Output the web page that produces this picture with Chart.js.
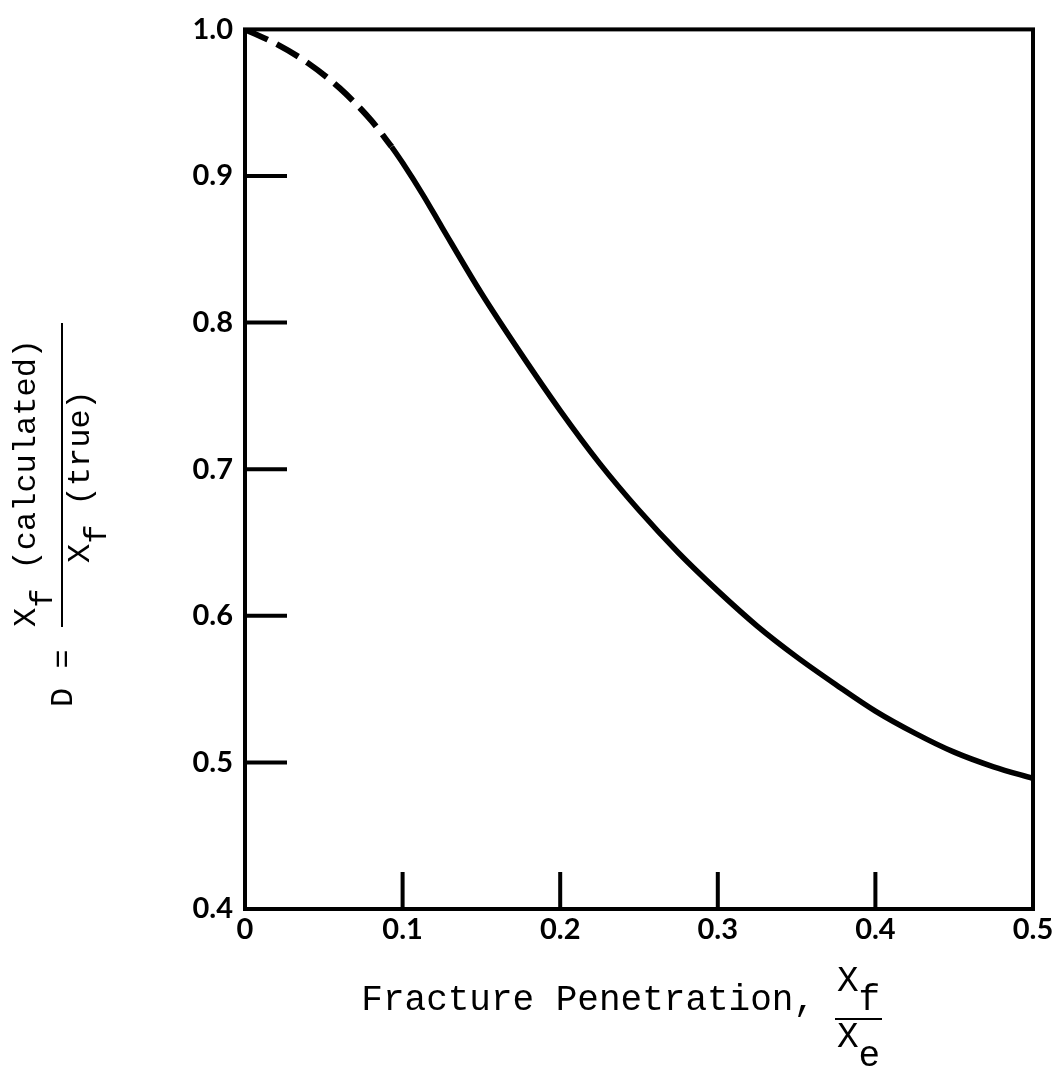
<!DOCTYPE html>
<html>
<head>
<meta charset="utf-8">
<script src="https://cdn.jsdelivr.net/npm/chart.js@4.4.1/dist/chart.umd.min.js"></script>
<style>
  html, body { margin: 0; padding: 0; background: #fff; }
</style>
</head>
<body>
<canvas id="graficaPenetracion" width="1061" height="1074"></canvas>
<script>
// Tramo discontinuo (extrapolado) de la curva
const tramoDiscontinuoX = [0, 0.02, 0.04, 0.06, 0.08, 0.093];
const tramoDiscontinuoY = [1.0, 0.990, 0.977, 0.960, 0.938, 0.920];

// Tramo continuo de la curva
const tramoContinuoX = [0.093, 0.1, 0.113, 0.125, 0.15, 0.175, 0.2, 0.225, 0.25, 0.275,
                        0.3, 0.325, 0.35, 0.375, 0.4, 0.425, 0.45, 0.475, 0.5];
const tramoContinuoY = [0.920, 0.909, 0.887, 0.865, 0.820, 0.779, 0.740, 0.704, 0.672, 0.643,
                        0.617, 0.593, 0.572, 0.553, 0.535, 0.520, 0.507, 0.497, 0.489];

// Ticks y etiquetas
const valoresX = [0, 0.1, 0.2, 0.3, 0.4, 0.5];
const etiquetasX = ['0', '0.1', '0.2', '0.3', '0.4', '0.5'];
const valoresY = [0.4, 0.5, 0.6, 0.7, 0.8, 0.9, 1.0];
const etiquetasY = ['0.4', '0.5', '0.6', '0.7', '0.8', '0.9', '1.0'];
const marcasX = [0.1, 0.2, 0.3, 0.4];
const marcasY = [0.5, 0.6, 0.7, 0.8, 0.9];

const fuenteTicks = { family: 'Lato', size: 29, weight: 'bold' };
const fuenteTituloX = '36px "Liberation Mono"';
const fuenteTituloY = '32px "Liberation Mono"';

// --- Texto con subíndice, dibujado pieza por pieza ---
function textoConSubindice(ctx, partes, x, y, bajada) {
    let cursor = x;
    partes.forEach(p => {
        ctx.fillText(p.t, cursor, y + (p.sub ? bajada : 0));
        cursor += ctx.measureText(p.t).width;
    });
    return cursor;
}

// --- Plugin: marco, marcas interiores y títulos de los ejes ---
const pluginMarco = {
    id: 'marco',
    afterDatasetsDraw(chart) {
        const { ctx, chartArea: a, scales: { x, y } } = chart;
        ctx.save();
        ctx.strokeStyle = '#000';
        ctx.lineWidth = 4;
        ctx.strokeRect(a.left, a.top, a.right - a.left, a.bottom - a.top);

        ctx.beginPath();
        marcasY.forEach(v => {
            const py = y.getPixelForValue(v);
            ctx.moveTo(a.left, py);
            ctx.lineTo(a.left + 42, py);
        });
        marcasX.forEach(v => {
            const px = x.getPixelForValue(v);
            ctx.moveTo(px, a.bottom);
            ctx.lineTo(px, a.bottom - 37);
        });
        ctx.stroke();
        ctx.restore();
    },
    afterDraw(chart) {
        const { ctx } = chart;
        ctx.save();
        ctx.fillStyle = '#000';
        ctx.strokeStyle = '#000';
        ctx.textBaseline = 'alphabetic';

        // Título del eje X
        ctx.font = fuenteTituloX;
        const principal = 'Fracture Penetration,';
        const base = 1010;
        ctx.fillText(principal, 815 - ctx.measureText(principal).width, base);
        textoConSubindice(ctx, [{ t: 'X' }, { t: 'f', sub: true }], 837, base - 19, 19);
        textoConSubindice(ctx, [{ t: 'X' }, { t: 'e', sub: true }], 837, base + 37, 19);
        ctx.lineWidth = 2;
        ctx.beginPath();
        ctx.moveTo(835, base + 9);
        ctx.lineTo(882, base + 9);
        ctx.stroke();

        // Título del eje Y (girado 90°)
        ctx.font = fuenteTituloY;
        ctx.save();
        ctx.rotate(-Math.PI / 2);
        ctx.fillText('D =', -707, 72);
        textoConSubindice(ctx, [{ t: 'X' }, { t: 'f', sub: true }, { t: ' (calculated)' }], -627, 35, 17);
        textoConSubindice(ctx, [{ t: 'X' }, { t: 'f', sub: true }, { t: ' (true)' }], -563, 89, 17);
        ctx.restore();
        ctx.lineWidth = 2;
        ctx.beginPath();
        ctx.moveTo(62, 323);
        ctx.lineTo(62, 627);
        ctx.stroke();
        ctx.restore();
    }
};

const ctx = document.getElementById('graficaPenetracion');

new Chart(ctx, {
    type: 'line',
    data: {
        datasets: [
            {
                data: tramoDiscontinuoX.map((v, i) => ({ x: v, y: tramoDiscontinuoY[i] })),
                borderColor: '#000',
                borderWidth: 6,
                borderDash: [25, 10],
                pointRadius: 0,
                cubicInterpolationMode: 'monotone'
            },
            {
                data: tramoContinuoX.map((v, i) => ({ x: v, y: tramoContinuoY[i] })),
                borderColor: '#000',
                borderWidth: 5.5,
                pointRadius: 0,
                cubicInterpolationMode: 'monotone'
            }
        ]
    },
    options: {
        responsive: false,
        animation: false,
        devicePixelRatio: 1,
        layout: { padding: { top: 24, right: 28, left: 0, bottom: 0 } },
        plugins: { legend: { display: false }, tooltip: { enabled: false } },
        scales: {
            x: {
                type: 'linear',
                min: 0,
                max: 0.5,
                afterBuildTicks: s => { s.ticks = valoresX.map(v => ({ value: v })); },
                afterFit: s => { s.height = 165; },
                ticks: {
                    color: '#000',
                    font: fuenteTicks,
                    padding: 3,
                    maxRotation: 0,
                    autoSkip: false,
                    callback: (v, i) => etiquetasX[i]
                },
                grid: { display: false, drawTicks: false },
                border: { display: false }
            },
            y: {
                type: 'linear',
                min: 0.4,
                max: 1.0,
                afterBuildTicks: s => { s.ticks = valoresY.map(v => ({ value: v })); },
                afterFit: s => { s.width = 245; },
                ticks: {
                    color: '#000',
                    font: fuenteTicks,
                    padding: 12,
                    autoSkip: false,
                    callback: (v, i) => etiquetasY[i]
                },
                grid: { display: false, drawTicks: false },
                border: { display: false }
            }
        }
    },
    plugins: [pluginMarco]
});
</script>
</body>
</html>
